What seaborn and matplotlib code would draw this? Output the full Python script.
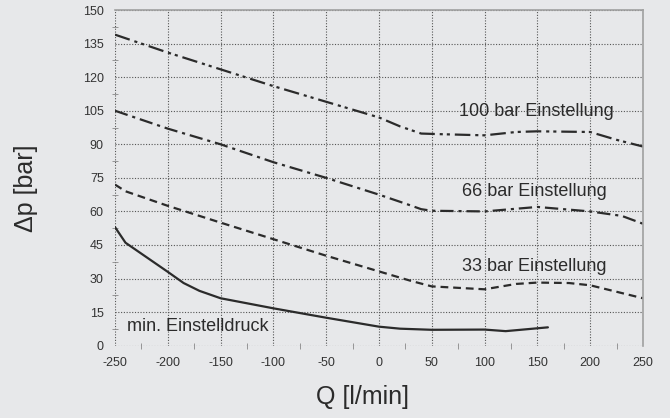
import numpy as np
import pandas as pd
import matplotlib
matplotlib.use("Agg")
import matplotlib.pyplot as plt
import seaborn as sns
from matplotlib.ticker import MultipleLocator

# values
q_100 = [-250, -200, -150, -100, -50, 0, 20, 40, 60, 100, 130, 150, 200, 225, 250]
p_100 = [139, 131, 123.5, 116, 109, 102, 98, 94.8, 94.5, 94, 95.5, 95.8, 95.5, 92, 89]

q_66 = [-250, -200, -150, -100, -50, 0, 25, 40, 50, 100, 150, 200, 230, 250]
p_66 = [105, 97, 90, 82, 75, 67.5, 63.5, 61, 60.3, 60, 62, 60, 58, 54.5]

q_33 = [-250, -240, -200, -150, -100, -50, 0, 30, 50, 100, 130, 150, 180, 200, 250]
p_33 = [72, 69, 62.5, 55, 47.6, 40.2, 33.2, 29, 26.5, 25.2, 27.6, 28.2, 28, 27, 21.2]

q_min = [-250, -240, -220, -200, -185, -170, -150, -100, -50, 0, 20, 50, 100, 120, 160]
p_min = [53, 46, 39.5, 33, 28, 24.5, 21.2, 16.7, 12.5, 8.5, 7.6, 7.1, 7.2, 6.5, 8.2]

labels = ["100 bar Einstellung", "66 bar Einstellung", "33 bar Einstellung", "min. Einstelldruck"]

bg = "#e7e8ea"
ink = "#2b2b2b"

sns.set_theme(style="white", rc={"axes.facecolor": bg, "figure.facecolor": bg})
plt.rcParams["font.family"] = ["Liberation Sans", "DejaVu Sans"]

fig = plt.figure(figsize=(6.7, 4.18), dpi=100)
ax = fig.add_axes([0.1716, 0.173, 0.788, 0.803])

series = [
    (q_100, p_100, (7, 2.2, 1.4, 1.8, 1.4, 2.2)),
    (q_66, p_66, (6, 2.2, 1.4, 2.2)),
    (q_33, p_33, (3.5, 2.2)),
    (q_min, p_min, None),
]
for q, p, dash in series:
    df = pd.DataFrame({"Q": q, "p": p})
    line = sns.lineplot(data=df, x="Q", y="p", ax=ax, color=ink, lw=1.6)
    if dash is not None:
        line.lines[-1].set_dashes(dash)

ax.text(76, 104.8, labels[0], fontsize=13, color=ink, va="center")
ax.text(79, 69, labels[1], fontsize=13, color=ink, va="center")
ax.text(79, 35.4, labels[2], fontsize=13, color=ink, va="center")
ax.text(-239, 8.5, labels[3], fontsize=13, color=ink, va="center")

ax.set_xlim(-250, 250)
ax.set_ylim(0, 150)
ax.xaxis.set_major_locator(MultipleLocator(50))
ax.yaxis.set_major_locator(MultipleLocator(15))
ax.xaxis.set_minor_locator(MultipleLocator(25))
ax.yaxis.set_minor_locator(MultipleLocator(7.5))
ax.grid(True, which="major", color="#555555", ls=(0, (1, 1.5)), lw=0.8)

for s in ["left", "bottom"]:
    ax.spines[s].set_visible(False)
for s in ["top", "right"]:
    ax.spines[s].set_color("#a0a0a0")
    ax.spines[s].set_linewidth(1.2)

ax.tick_params(which="major", length=0, pad=8, labelsize=9, colors="#333333")
ax.tick_params(which="minor", direction="inout", length=4, width=0.6, color="#888888",
               bottom=True, left=True)
ax.set_xticklabels([f"{int(v)}" for v in ax.get_xticks()])
ax.set_yticklabels([f"{int(v)}" for v in ax.get_yticks()])

ax.set_xlabel("Q [l/min]", fontsize=18, color=ink, labelpad=12, x=0.468)
ax.set_ylabel("Δp [bar]", fontsize=18, color=ink, labelpad=32, y=0.47)

fig.savefig("out.png", dpi=100, facecolor=bg)
